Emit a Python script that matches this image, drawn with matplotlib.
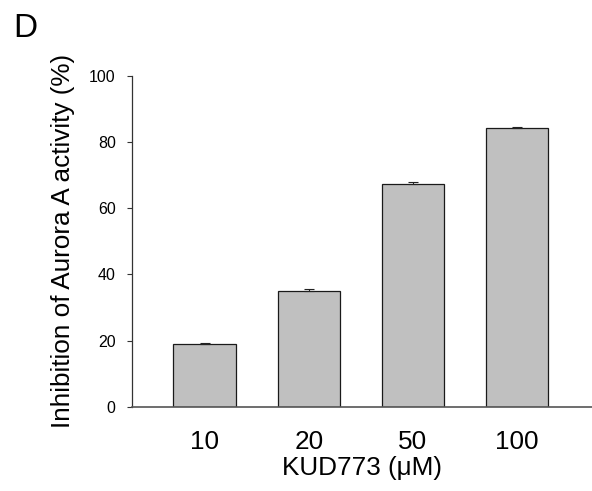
import numpy as np
import matplotlib
matplotlib.use("Agg")
import matplotlib.pyplot as plt

# ----------------------------
# Data
# ----------------------------
doses = ['10', '20', '50', '100']
inhibition = [18.9, 35.1, 67.3, 84.2]
errors = [0.4, 0.5, 0.7, 0.3]

plt.rcParams['font.family'] = ['Liberation Sans', 'DejaVu Sans']

fig = plt.figure(figsize=(5.92, 4.91), dpi=100)
ax = fig.add_axes([0.2225, 0.1717, 0.7775, 0.6735])

x = np.arange(len(doses))

ax.bar(
    x,
    inhibition,
    width=0.6,
    color='#c0c0c0',
    edgecolor='#1a1a1a',
    linewidth=0.9,
    zorder=2
)

ax.errorbar(
    x,
    inhibition,
    yerr=[np.zeros(len(errors)), errors],
    fmt='none',
    ecolor='#222222',
    elinewidth=0.8,
    capsize=3.6,
    capthick=0.8,
    zorder=3
)

ax.set_xlim(-0.7, 3.72)
ax.set_ylim(0, 100)
ax.set_yticks([0, 20, 40, 60, 80, 100])
ax.set_xticks(x)
ax.set_xticklabels(doses)

ax.spines['top'].set_visible(False)
ax.spines['right'].set_visible(False)
ax.spines['left'].set_color('#333333')
ax.spines['bottom'].set_color('#555555')
ax.spines['left'].set_linewidth(0.9)
ax.spines['bottom'].set_linewidth(1.2)

ax.tick_params(axis='y', direction='out', length=3.5, width=0.8,
               color='#333333', labelsize=11.5, pad=8)
ax.tick_params(axis='x', length=0, labelsize=18.8, pad=17)

ax.set_xlabel("KUD773 (μM)", fontsize=18.8, labelpad=1)
ax.set_ylabel("Inhibition of Aurora A activity (%)", fontsize=18.8, labelpad=10)

fig.text(0.022, 0.925, "D", fontsize=24, ha='left', va='baseline')

fig.savefig("out.png", dpi=100)
